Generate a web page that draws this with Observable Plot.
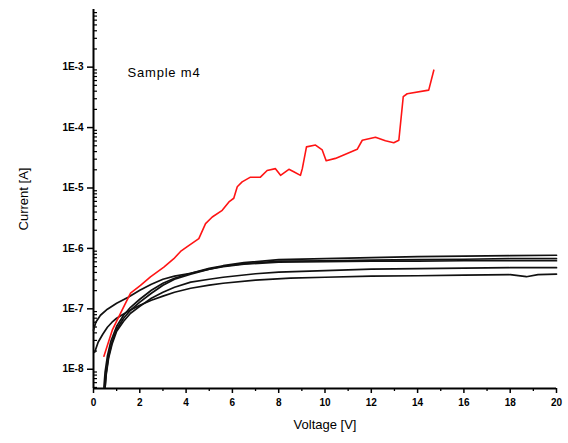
<!DOCTYPE html>
<html>
<head>
<meta charset="utf-8">
<script src="https://cdn.jsdelivr.net/npm/d3@7"></script>
<script src="https://cdn.jsdelivr.net/npm/@observablehq/plot@0.6"></script>
<style>
  html, body { margin: 0; padding: 0; background: #fff; }
  #chart svg { display: block; }
</style>
</head>
<body>
<div id="chart"></div>
<script>
// ---- data ----
const sampleLabel = "Sample m4";
const xLabel = "Voltage [V]";
const yLabel = "Current [A]";

const xMajorTicks = [0, 2, 4, 6, 8, 10, 12, 14, 16, 18, 20];
const xMinorTicks = [1, 3, 5, 7, 9, 11, 13, 15, 17, 19];
const yMajorTicks = [1e-8, 1e-7, 1e-6, 1e-5, 1e-4, 1e-3];
const yTickLabels = ["1E-8", "1E-7", "1E-6", "1E-5", "1E-4", "1E-3"];
const yDomain = [4.8e-9, 9e-3];

// red curve
const redV = [0.45, 0.81, 1.17, 1.6, 2.03, 2.46, 3.04, 3.47, 3.76, 4.05, 4.55, 4.84, 5.13, 5.56, 5.85, 6.06, 6.21, 6.42, 6.78, 7.21, 7.5, 7.86, 8.08, 8.44, 8.65, 8.94, 9.02, 9.2, 9.59, 9.88, 10.05, 10.45, 10.96, 11.39, 11.61, 12.18, 12.61, 12.97, 13.19, 13.38, 13.55, 14.48, 14.7];
const redI = [1.64e-8, 4.43e-8, 8.51e-8, 1.82e-7, 2.45e-7, 3.39e-7, 4.9e-7, 6.76e-7, 8.9e-7, 1.07e-6, 1.45e-6, 2.57e-6, 3.31e-6, 4.27e-6, 5.89e-6, 6.76e-6, 1.05e-5, 1.26e-5, 1.51e-5, 1.51e-5, 1.95e-5, 2.09e-5, 1.62e-5, 2.04e-5, 1.86e-5, 1.62e-5, 2.09e-5, 4.79e-5, 5.13e-5, 4.27e-5, 2.82e-5, 3.09e-5, 3.72e-5, 4.37e-5, 6.17e-5, 6.92e-5, 6.03e-5, 5.62e-5, 6.17e-5, 3.24e-4, 3.63e-4, 4.17e-4, 8.91e-4];

// black curves
const curveA_V = [0, 0.1, 0.3, 0.6, 1.0, 1.5, 2.0, 2.5, 3.0, 3.5, 4.2, 5.0, 5.6, 6.5, 8.0, 10, 12, 14, 16, 18, 20];
const curveA_I = [4.42e-8, 6.0e-8, 7.83e-8, 9.85e-8, 1.24e-7, 1.56e-7, 2.03e-7, 2.55e-7, 3.09e-7, 3.47e-7, 3.88e-7, 4.53e-7, 5.07e-7, 5.58e-7, 6.14e-7, 6.25e-7, 6.38e-7, 6.5e-7, 6.62e-7, 6.75e-7, 6.75e-7];

const curveB_V = [0.05, 0.2, 0.4, 0.6, 0.8, 1.0, 1.5, 2.0, 2.5, 3.0, 3.5, 4.2, 5.0, 5.6, 7.0, 8.5, 10, 12, 14, 16, 18, 18.7, 19.2, 20];
const curveB_I = [1.91e-8, 2.8e-8, 3.79e-8, 4.96e-8, 6.0e-8, 6.98e-8, 9.12e-8, 1.15e-7, 1.39e-7, 1.62e-7, 1.88e-7, 2.19e-7, 2.46e-7, 2.65e-7, 2.98e-7, 3.21e-7, 3.33e-7, 3.47e-7, 3.53e-7, 3.6e-7, 3.67e-7, 3.4e-7, 3.67e-7, 3.74e-7];

const curveC_V = [0.45, 0.5, 0.6, 0.75, 1.0, 1.3, 1.6, 2.0, 2.5, 3.0, 3.5, 4.2, 5.0, 5.6, 6.5, 8.0, 10, 12, 14, 16, 18, 20];
const curveC_I = [5.0e-9, 8.91e-9, 1.64e-8, 2.91e-8, 5.15e-8, 7.83e-8, 1.06e-7, 1.44e-7, 2.03e-7, 2.65e-7, 3.21e-7, 3.88e-7, 4.7e-7, 5.17e-7, 5.8e-7, 6.5e-7, 6.75e-7, 7.02e-7, 7.29e-7, 7.43e-7, 7.57e-7, 7.71e-7];

const curveD_V = [0.5, 0.55, 0.65, 0.8, 1.0, 1.3, 1.6, 2.0, 2.5, 3.0, 3.5, 4.2, 5.0, 5.6, 6.5, 8.0, 10, 12, 14, 16, 18, 20];
const curveD_I = [5.0e-9, 8.91e-9, 1.64e-8, 2.8e-8, 4.59e-8, 6.98e-8, 9.48e-8, 1.29e-7, 1.81e-7, 2.46e-7, 3.09e-7, 3.74e-7, 4.53e-7, 4.98e-7, 5.48e-7, 5.91e-7, 6.03e-7, 6.14e-7, 6.14e-7, 6.25e-7, 6.25e-7, 6.25e-7];

const curveE_V = [0.5, 0.55, 0.65, 0.8, 1.0, 1.3, 1.6, 2.0, 2.5, 3.0, 3.5, 4.2, 5.0, 5.6, 7.0, 8.0, 10, 12, 14, 16, 18, 20];
const curveE_I = [5.0e-9, 8.26e-9, 1.52e-8, 2.59e-8, 4.26e-8, 6.23e-8, 8.45e-8, 1.1e-7, 1.5e-7, 1.88e-7, 2.28e-7, 2.76e-7, 3.09e-7, 3.33e-7, 3.81e-7, 4.04e-7, 4.28e-7, 4.53e-7, 4.61e-7, 4.7e-7, 4.79e-7, 4.79e-7];

// ---- build tables ----
const red = redV.map((v, k) => ({v, i: redI[k]}));
const blackSets = [["A", curveA_V, curveA_I], ["B", curveB_V, curveB_I], ["C", curveC_V, curveC_I], ["D", curveD_V, curveD_I], ["E", curveE_V, curveE_I]];
const black = blackSets.flatMap(([name, V, I]) => V.map((v, k) => ({curve: name, v, i: I[k]})));

const yMinorTicks = [];
for (let e = -9; e <= -3; e++) for (let m = 2; m <= 9; m++) {
  const t = m * Math.pow(10, e);
  if (t >= yDomain[0] && t <= yDomain[1]) yMinorTicks.push(t);
}
const yFmt = d => yTickLabels[yMajorTicks.indexOf(d)] ?? "";

const font = "'Liberation Sans', Arial, sans-serif";

const chart = Plot.plot({
  width: 568,
  height: 443,
  marginLeft: 93,
  marginRight: 12,
  marginTop: 9,
  marginBottom: 55,
  style: {fontFamily: font, background: "#fff", color: "#000"},
  x: {domain: [0, 20]},
  y: {type: "log", domain: yDomain},
  marks: [
    Plot.axisY({ticks: yMinorTicks, tickSize: -4, tickFormat: () => "", label: null, strokeWidth: 1.2}),
    Plot.axisY({ticks: yMajorTicks, tickSize: 6, tickPadding: 4, tickFormat: yFmt, fontSize: 10, fontWeight: "bold",
      label: yLabel, labelAnchor: "center", labelOffset: 75, labelArrow: "none", strokeWidth: 1.5}),
    Plot.axisX({ticks: xMinorTicks, tickSize: 3, tickFormat: () => "", label: null, strokeWidth: 1.3}),
    Plot.axisX({ticks: xMajorTicks, tickSize: 5, tickPadding: 5, fontSize: 10, fontWeight: "bold",
      label: xLabel, labelAnchor: "center", labelOffset: 40, labelArrow: "none", strokeWidth: 1.5}),
    Plot.ruleX([0], {stroke: "#000", strokeWidth: 2}),
    Plot.ruleY([yDomain[0]], {stroke: "#000", strokeWidth: 2}),
    Plot.line(black, {x: "v", y: "i", z: "curve", stroke: "#111", strokeWidth: 1.7}),
    Plot.line(red, {x: "v", y: "i", stroke: "#ff1414", strokeWidth: 1.6}),
    Plot.text([sampleLabel], {frameAnchor: "top-left", dx: 34, dy: 58, text: d => d, fontSize: 13, fill: "#000", textAnchor: "start"})
  ]
});

// axis label styling
chart.querySelectorAll("g[aria-label='x-axis label'] text, g[aria-label='y-axis label'] text").forEach(t => {
  t.style.fontSize = "13px";
  t.style.fontWeight = "normal";
});
chart.querySelectorAll("g[aria-label='text'] text").forEach(t => {
  t.style.letterSpacing = "0.8px";
});
document.getElementById("chart").appendChild(chart);
</script>
</body>
</html>
